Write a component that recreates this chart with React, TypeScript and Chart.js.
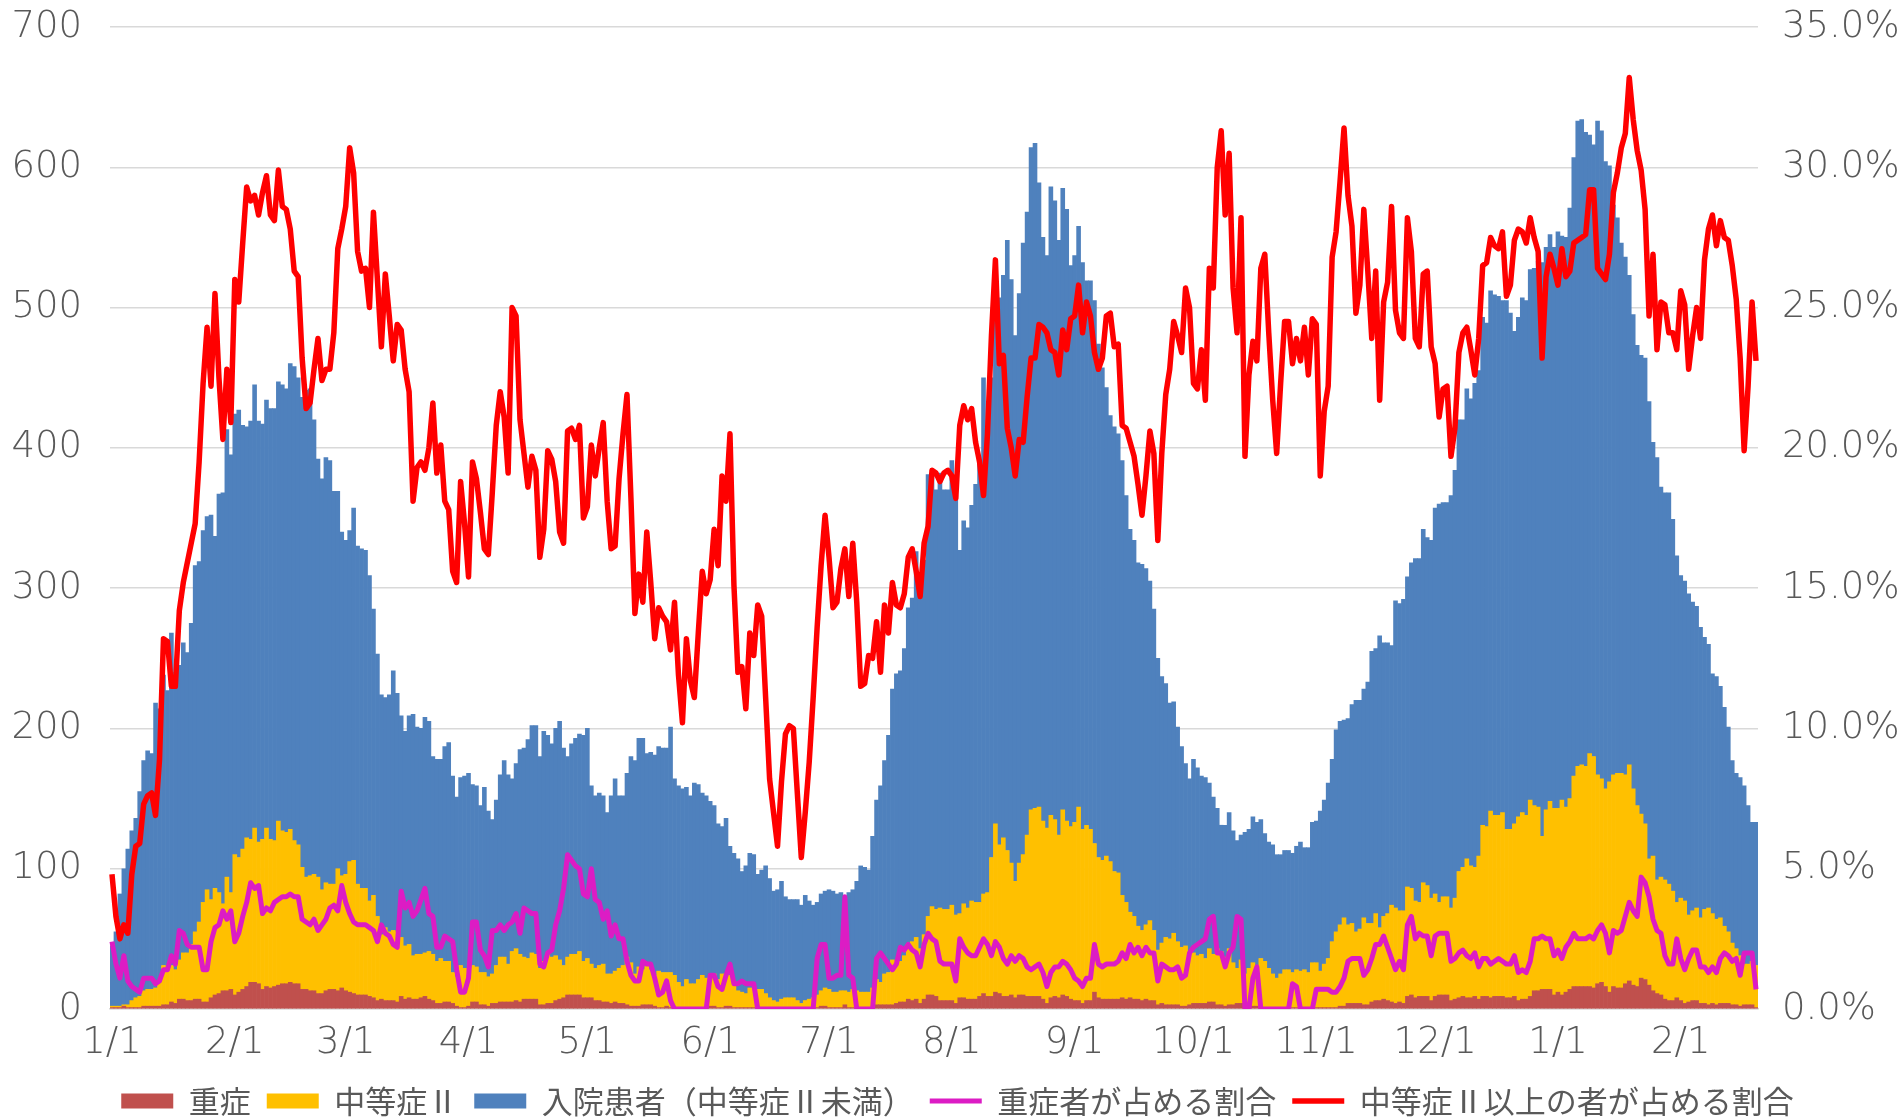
import { useEffect, useRef } from 'react';
import { Chart, registerables } from 'chart.js';

Chart.register(...registerables);

// Daily categories from 2021-01-01 (416 days, through 2022-02-20)
const START = { year: 2021, month: 0, day: 1 };
const DAY_COUNT = 416;
const DATES: string[] = Array.from({ length: DAY_COUNT }, (_, i) => {
  const d = new Date(Date.UTC(START.year, START.month, START.day + i));
  return `${d.getUTCMonth() + 1}/${d.getUTCDate()}`;
});

// 重症 (severe)
const SEVERE = [
  1, 1, 1, 2, 1, 1, 1, 1, 2, 2,
  2, 2, 2, 3, 3, 5, 4, 7, 7, 6,
  6, 7, 7, 5, 5, 8, 10, 11, 13, 13,
  14, 10, 12, 14, 16, 19, 19, 18, 14, 16,
  15, 16, 17, 18, 18, 19, 18, 18, 14, 14,
  13, 13, 11, 11, 13, 14, 14, 13, 15, 13,
  12, 11, 10, 10, 10, 9, 8, 6, 7, 6,
  6, 6, 5, 9, 7, 8, 7, 7, 8, 9,
  7, 6, 4, 4, 5, 5, 4, 2, 1, 1,
  2, 5, 5, 3, 3, 2, 4, 4, 5, 5,
  5, 5, 6, 5, 7, 7, 7, 7, 3, 3,
  4, 4, 6, 7, 8, 10, 10, 10, 10, 8,
  8, 8, 6, 6, 5, 5, 4, 5, 4, 4,
  3, 2, 2, 2, 3, 3, 3, 2, 1, 1,
  2, 1, 0, 0, 0, 0, 0, 0, 0, 0,
  0, 2, 2, 1, 1, 2, 2, 1, 1, 1,
  1, 1, 1, 0, 0, 0, 0, 0, 0, 0,
  0, 0, 0, 0, 0, 0, 0, 0, 1, 2,
  2, 1, 1, 1, 1, 3, 1, 1, 0, 0,
  0, 0, 0, 3, 3, 3, 3, 3, 4, 5,
  5, 7, 6, 7, 4, 7, 10, 10, 9, 6,
  6, 6, 6, 4, 8, 8, 7, 7, 7, 9,
  11, 9, 9, 12, 11, 9, 9, 10, 8, 10,
  10, 9, 9, 9, 9, 7, 4, 8, 9, 8,
  10, 9, 7, 6, 6, 4, 6, 6, 12, 8,
  7, 7, 7, 7, 7, 8, 7, 8, 7, 7,
  6, 7, 6, 6, 3, 4, 3, 3, 3, 3,
  2, 2, 3, 4, 4, 4, 4, 5, 5, 3,
  3, 2, 3, 3, 4, 4, 0, 0, 2, 2,
  0, 0, 0, 0, 0, 0, 0, 0, 1, 1,
  0, 0, 0, 0, 1, 1, 1, 1, 1, 1,
  2, 2, 4, 4, 4, 4, 3, 3, 5, 6,
  6, 7, 6, 5, 4, 5, 4, 9, 10, 8,
  9, 9, 9, 6, 9, 10, 10, 10, 6, 7,
  8, 9, 8, 8, 9, 7, 9, 9, 8, 9,
  9, 9, 8, 8, 9, 6, 7, 7, 9, 13,
  13, 14, 14, 14, 10, 12, 10, 12, 14, 16,
  16, 16, 16, 16, 15, 18, 19, 16, 12, 16,
  15, 15, 18, 20, 17, 16, 22, 21, 17, 13,
  11, 10, 7, 6, 6, 8, 6, 4, 5, 6,
  6, 4, 4, 3, 4, 3, 4, 4, 4, 3,
  3, 2, 3, 3, 3, 1,
];

// 中等症Ⅱ以上 (severe + moderate II)
const MODERATE_OR_ABOVE = [
  2, 2, 2, 3, 3, 6, 8, 9, 13, 14,
  14, 15, 19, 31, 30, 31, 28, 35, 40, 40,
  46, 55, 62, 76, 85, 78, 86, 83, 75, 94,
  83, 110, 108, 114, 122, 121, 129, 119, 121, 129,
  121, 120, 134, 127, 126, 128, 120, 117, 101, 94,
  95, 96, 94, 85, 90, 89, 89, 100, 95, 96,
  105, 106, 89, 86, 86, 77, 81, 66, 53, 58,
  55, 56, 55, 51, 45, 46, 38, 39, 39, 40,
  41, 39, 34, 36, 34, 34, 26, 23, 31, 29,
  26, 31, 30, 26, 26, 23, 25, 31, 37, 37,
  32, 41, 43, 39, 37, 36, 40, 39, 29, 34,
  39, 37, 38, 35, 31, 37, 39, 39, 41, 34,
  36, 32, 29, 31, 32, 25, 25, 27, 29, 31,
  37, 33, 25, 30, 28, 31, 28, 24, 27, 26,
  26, 26, 24, 19, 16, 21, 18, 18, 21, 24,
  22, 23, 25, 21, 25, 25, 24, 17, 13, 12,
  11, 15, 14, 14, 14, 11, 8, 6, 5, 7,
  8, 8, 8, 6, 4, 6, 7, 8, 10, 13,
  15, 14, 12, 12, 13, 13, 12, 14, 13, 12,
  12, 12, 15, 21, 19, 25, 26, 35, 34, 34,
  38, 46, 48, 51, 43, 53, 66, 73, 71, 72,
  71, 71, 74, 67, 68, 75, 72, 77, 76, 76,
  82, 83, 108, 132, 117, 122, 113, 104, 91, 104,
  110, 124, 142, 143, 144, 134, 129, 138, 135, 124,
  142, 134, 130, 133, 144, 128, 131, 128, 118, 108,
  106, 109, 105, 98, 97, 81, 76, 69, 66, 59,
  56, 60, 63, 56, 42, 47, 51, 50, 54, 48,
  44, 45, 41, 40, 38, 39, 36, 43, 39, 43,
  41, 37, 43, 33, 29, 35, 25, 29, 33, 31,
  36, 34, 29, 25, 22, 25, 28, 28, 26, 28,
  27, 28, 26, 33, 33, 27, 32, 36, 48, 55,
  60, 65, 60, 61, 55, 57, 65, 61, 61, 68,
  58, 66, 68, 74, 72, 70, 70, 87, 86, 77,
  76, 90, 88, 79, 82, 76, 80, 80, 72, 79,
  98, 101, 107, 102, 101, 109, 131, 130, 141, 138,
  138, 140, 128, 128, 132, 137, 140, 138, 149, 145,
  144, 123, 142, 148, 143, 143, 149, 144, 150, 166,
  173, 174, 173, 182, 180, 167, 164, 157, 162, 167,
  168, 168, 167, 174, 157, 145, 139, 132, 107, 109,
  92, 94, 92, 89, 84, 76, 79, 77, 67, 70,
  72, 65, 71, 72, 68, 64, 65, 59, 55, 47,
  43, 38, 32, 32, 34, 31,
];

// 入院患者 total
const INPATIENTS = [
  45, 55, 82, 100, 114, 127, 136, 155, 177, 184,
  182, 218, 214, 238, 227, 268, 240, 245, 261, 254,
  275, 316, 319, 341, 351, 352, 337, 367, 368, 413,
  395, 424, 427, 416, 415, 419, 445, 419, 417, 434,
  428, 428, 447, 445, 442, 460, 458, 450, 436, 441,
  442, 420, 392, 378, 393, 391, 369, 369, 340, 334,
  341, 357, 330, 328, 327, 309, 285, 253, 224, 222,
  224, 241, 225, 209, 198, 209, 210, 201, 200, 208,
  205, 180, 178, 178, 187, 190, 166, 151, 165, 166,
  168, 160, 159, 145, 158, 141, 135, 149, 167, 177,
  167, 164, 175, 185, 186, 192, 202, 202, 180, 198,
  195, 189, 200, 205, 186, 180, 189, 193, 196, 195,
  200, 159, 152, 154, 152, 140, 152, 164, 152, 152,
  168, 180, 177, 193, 193, 182, 183, 181, 187, 186,
  186, 201, 164, 159, 157, 158, 152, 161, 160, 154,
  152, 148, 145, 132, 130, 136, 116, 111, 107, 98,
  102, 111, 110, 96, 99, 102, 93, 84, 85, 91,
  80, 78, 78, 78, 74, 81, 77, 74, 76, 82,
  84, 85, 84, 82, 83, 77, 83, 85, 91, 102,
  101, 99, 123, 149, 159, 177, 195, 228, 239, 241,
  257, 286, 293, 326, 295, 320, 381, 381, 370, 382,
  370, 370, 391, 366, 327, 348, 343, 359, 374, 389,
  450, 407, 450, 493, 507, 523, 548, 520, 480, 510,
  546, 568, 614, 617, 589, 550, 537, 586, 576, 548,
  585, 570, 530, 537, 558, 532, 519, 519, 505, 474,
  457, 443, 423, 415, 410, 391, 366, 342, 334, 318,
  317, 314, 305, 285, 250, 237, 232, 218, 219, 201,
  187, 175, 164, 178, 172, 166, 165, 161, 151, 143,
  131, 131, 140, 127, 120, 124, 126, 128, 137, 133,
  135, 125, 119, 117, 110, 110, 113, 113, 111, 116,
  119, 115, 115, 133, 134, 141, 149, 161, 178, 199,
  205, 206, 207, 217, 220, 220, 228, 233, 255, 257,
  266, 261, 261, 259, 291, 289, 292, 308, 318, 321,
  321, 342, 336, 334, 357, 360, 361, 361, 366, 384,
  420, 420, 442, 435, 446, 455, 493, 489, 512, 509,
  508, 505, 505, 496, 483, 493, 507, 505, 527, 528,
  533, 532, 543, 552, 543, 554, 551, 550, 571, 607,
  633, 634, 625, 623, 616, 633, 626, 604, 601, 573,
  564, 546, 536, 523, 495, 473, 466, 464, 433, 404,
  393, 372, 368, 368, 349, 323, 309, 305, 296, 290,
  287, 272, 265, 260, 239, 237, 230, 215, 201, 177,
  168, 165, 159, 145, 133, 133,
];

// 重症者が占める割合 (%)
const SEVERE_SHARE = [
  2.4, 1.6, 1.1, 1.9, 1.0, 0.8, 0.7, 0.6, 1.1, 1.1,
  1.1, 0.9, 1.0, 1.4, 1.4, 1.9, 1.6, 2.8, 2.7, 2.3,
  2.2, 2.2, 2.2, 1.4, 1.4, 2.4, 2.9, 3.0, 3.5, 3.2,
  3.5, 2.4, 2.7, 3.3, 3.8, 4.5, 4.3, 4.4, 3.4, 3.6,
  3.5, 3.8, 3.9, 4.0, 4.0, 4.1, 4.0, 4.0, 3.2, 3.1,
  3.0, 3.2, 2.8, 3.0, 3.2, 3.6, 3.7, 3.5, 4.4, 3.8,
  3.4, 3.1, 3.0, 3.0, 3.0, 2.9, 2.8, 2.4, 3.0, 2.7,
  2.6, 2.3, 2.2, 4.2, 3.6, 3.8, 3.3, 3.5, 3.9, 4.3,
  3.4, 3.3, 2.2, 2.2, 2.6, 2.5, 2.4, 1.4, 0.6, 0.6,
  1.1, 3.1, 3.1, 2.1, 1.9, 1.5, 2.8, 2.8, 3.0, 2.8,
  3.0, 3.1, 3.4, 2.7, 3.6, 3.5, 3.4, 3.4, 1.6, 1.5,
  2.0, 2.1, 3.0, 3.5, 4.3, 5.5, 5.3, 5.1, 5.0, 4.1,
  4.0, 5.0, 3.9, 3.8, 3.2, 3.5, 2.6, 3.0, 2.5, 2.5,
  1.7, 1.2, 1.0, 1.0, 1.7, 1.6, 1.6, 1.1, 0.5, 0.6,
  1.0, 0.3, 0, 0, 0, 0, 0, 0, 0, 0,
  0, 1.2, 1.2, 0.8, 0.7, 1.2, 1.6, 0.9, 0.9, 1.0,
  0.9, 0.9, 0.9, 0, 0, 0, 0, 0, 0, 0,
  0, 0, 0, 0, 0, 0, 0, 0, 1.8, 2.3,
  2.3, 1.1, 1.1, 1.2, 1.2, 4.0, 1.2, 1.1, 0, 0,
  0, 0, 0, 1.8, 2.0, 1.8, 1.6, 1.4, 1.6, 2.2,
  2.1, 2.3, 2.1, 2.0, 1.5, 2.3, 2.7, 2.5, 2.4, 1.7,
  1.6, 1.6, 1.6, 1.0, 2.5, 2.2, 2.0, 1.9, 1.9, 2.2,
  2.5, 2.3, 1.9, 2.4, 2.2, 1.8, 1.6, 1.9, 1.7, 1.9,
  1.8, 1.5, 1.4, 1.5, 1.6, 1.3, 0.8, 1.3, 1.5, 1.5,
  1.7, 1.6, 1.4, 1.1, 1.0, 0.8, 1.1, 1.1, 2.3, 1.6,
  1.5, 1.6, 1.6, 1.6, 1.7, 2.0, 1.8, 2.3, 2.0, 2.2,
  1.9, 2.2, 2.0, 2.0, 1.0, 1.6, 1.5, 1.4, 1.4, 1.5,
  1.1, 1.2, 2.0, 2.2, 2.3, 2.4, 2.5, 3.2, 3.3, 2.0,
  2.0, 1.5, 2.0, 2.2, 3.3, 3.2, 0, 0, 1.1, 1.5,
  0, 0, 0, 0, 0, 0, 0, 0, 0.9, 0.8,
  0, 0, 0, 0, 0.7, 0.7, 0.7, 0.7, 0.6, 0.6,
  0.8, 1.1, 1.7, 1.8, 1.8, 1.8, 1.2, 1.4, 1.8, 2.3,
  2.3, 2.6, 2.2, 1.8, 1.4, 1.7, 1.4, 3.0, 3.3, 2.5,
  2.7, 2.6, 2.6, 1.9, 2.6, 2.7, 2.7, 2.7, 1.7, 1.8,
  2.0, 2.1, 1.9, 1.8, 2.0, 1.5, 1.8, 1.8, 1.6, 1.7,
  1.8, 1.7, 1.6, 1.6, 1.9, 1.3, 1.4, 1.3, 1.7, 2.5,
  2.5, 2.6, 2.5, 2.5, 1.9, 2.1, 1.8, 2.2, 2.4, 2.7,
  2.5, 2.5, 2.5, 2.6, 2.5, 2.8, 3.0, 2.7, 2.0, 2.8,
  2.7, 2.8, 3.3, 3.8, 3.5, 3.3, 4.7, 4.5, 4.0, 3.2,
  2.8, 2.7, 1.9, 1.6, 1.6, 2.5, 1.8, 1.4, 1.8, 2.1,
  2.1, 1.5, 1.5, 1.3, 1.5, 1.3, 1.8, 2.0, 1.9, 1.7,
  1.8, 1.2, 2.0, 2.0, 2.0, 0.7,
];

// 中等症Ⅱ以上の者が占める割合 (%)
const MODERATE_SHARE = [
  4.8, 3.3, 2.5, 3.0, 2.7, 4.8, 5.8, 5.9, 7.3, 7.6,
  7.7, 6.9, 8.9, 13.2, 13.1, 11.5, 11.5, 14.2, 15.2, 15.9,
  16.6, 17.3, 19.5, 22.3, 24.3, 22.2, 25.5, 22.5, 20.3, 22.8,
  20.9, 26.0, 25.2, 27.3, 29.3, 28.8, 29.0, 28.3, 29.1, 29.7,
  28.3, 28.1, 29.9, 28.6, 28.5, 27.8, 26.3, 26.1, 23.2, 21.4,
  21.6, 22.8, 23.9, 22.4, 22.8, 22.8, 24.1, 27.1, 27.8, 28.6,
  30.7, 29.8, 27.0, 26.3, 26.4, 25.0, 28.4, 26.0, 23.6, 26.2,
  24.7, 23.1, 24.4, 24.2, 22.8, 22.0, 18.1, 19.3, 19.5, 19.2,
  20.0, 21.6, 19.1, 20.1, 18.1, 17.8, 15.6, 15.2, 18.8, 17.3,
  15.4, 19.5, 18.9, 17.7, 16.4, 16.2, 18.4, 20.8, 22.0, 21.1,
  19.1, 25.0, 24.7, 21.0, 19.8, 18.6, 19.7, 19.2, 16.1, 17.1,
  19.9, 19.6, 18.8, 17.0, 16.6, 20.6, 20.7, 20.3, 20.8, 17.5,
  17.9, 20.1, 19.0, 20.0, 20.9, 18.1, 16.4, 16.5, 18.9, 20.5,
  21.9, 18.2, 14.1, 15.5, 14.5, 17.0, 15.2, 13.2, 14.3, 14.0,
  13.8, 12.8, 14.5, 11.9, 10.2, 13.2, 11.7, 11.1, 13.4, 15.6,
  14.8, 15.3, 17.1, 15.8, 19.0, 18.1, 20.5, 15.1, 12.0, 12.2,
  10.7, 13.4, 12.6, 14.4, 14.0, 11.1, 8.2, 7.0, 5.8, 8.1,
  9.8, 10.1, 10.0, 7.7, 5.4, 7.0, 8.8, 11.1, 13.6, 15.8,
  17.6, 16.1, 14.3, 14.5, 15.7, 16.4, 14.7, 16.6, 14.5, 11.5,
  11.6, 12.6, 12.5, 13.8, 12.0, 14.4, 13.4, 15.2, 14.4, 14.3,
  14.8, 16.1, 16.4, 15.6, 14.7, 16.6, 17.2, 19.2, 19.1, 18.8,
  19.1, 19.2, 19.0, 18.2, 20.8, 21.5, 21.0, 21.4, 20.2, 19.5,
  18.3, 20.5, 24.0, 26.7, 23.0, 23.3, 20.7, 20.0, 19.0, 20.3,
  20.2, 21.8, 23.2, 23.2, 24.4, 24.3, 24.1, 23.5, 23.4, 22.6,
  24.2, 23.5, 24.6, 24.7, 25.8, 24.1, 25.2, 24.7, 23.4, 22.8,
  23.2, 24.7, 24.8, 23.6, 23.7, 20.8, 20.7, 20.2, 19.7, 18.7,
  17.6, 19.0, 20.6, 19.8, 16.7, 19.8, 21.9, 22.8, 24.5, 24.0,
  23.4, 25.7, 25.0, 22.3, 22.1, 23.5, 21.7, 26.4, 25.7, 30.0,
  31.3, 28.3, 30.5, 25.7, 24.1, 28.2, 19.7, 22.6, 23.8, 23.1,
  26.4, 26.9, 24.1, 21.7, 19.8, 22.3, 24.5, 24.5, 23.0, 23.9,
  23.1, 24.3, 22.6, 24.6, 24.4, 19.0, 21.3, 22.2, 26.8, 27.7,
  29.5, 31.4, 29.0, 27.9, 24.8, 25.8, 28.5, 26.3, 23.9, 26.3,
  21.7, 25.2, 25.9, 28.6, 24.9, 24.1, 23.9, 28.2, 27.0, 23.9,
  23.6, 26.2, 26.3, 23.6, 23.0, 21.1, 22.1, 22.2, 19.7, 20.7,
  23.4, 24.1, 24.3, 23.5, 22.6, 23.9, 26.5, 26.6, 27.5, 27.2,
  27.1, 27.7, 25.4, 25.8, 27.4, 27.8, 27.7, 27.3, 28.2, 27.5,
  27.0, 23.2, 26.1, 26.9, 26.4, 25.8, 27.1, 26.1, 26.3, 27.3,
  27.4, 27.5, 27.6, 29.2, 29.2, 26.4, 26.2, 26.0, 26.9, 29.1,
  29.8, 30.7, 31.2, 33.2, 31.7, 30.6, 29.9, 28.5, 24.7, 26.9,
  23.5, 25.2, 25.1, 24.1, 24.1, 23.5, 25.6, 25.1, 22.8, 24.0,
  25.0, 23.9, 26.7, 27.8, 28.3, 27.2, 28.1, 27.5, 27.4, 26.5,
  25.3, 23.2, 19.9, 22.2, 25.2, 23.1,
];

const LEFT_TICKS = { min: 0, max: 700, step: 100 };
const RIGHT_TICKS = { min: 0, max: 35, step: 5 };

const NUM_FONT = "'DejaVu Sans', 'Noto Sans CJK JP', sans-serif";
const JP_FONT = "'Noto Sans CJK JP', 'DejaVu Sans', sans-serif";
const TEXT_COLOR = '#595959';
const GRID_COLOR = '#D9D9D9';

export default function App() {
  const canvasRef = useRef<HTMLCanvasElement | null>(null);

  useEffect(() => {
    const all = [SEVERE, MODERATE_OR_ABOVE, INPATIENTS, SEVERE_SHARE, MODERATE_SHARE];
    all.forEach((a, k) => {
      if (a.length !== DAY_COUNT) throw new Error(`array ${k} has length ${a.length}`);
    });
    const moderate = MODERATE_OR_ABOVE.map((v, i) => v - SEVERE[i]);
    const mild = INPATIENTS.map((v, i) => v - MODERATE_OR_ABOVE[i]);

    const legendFit = {
      id: 'legendFit',
      beforeLayout(chart: any) {
        const lg = chart.legend;
        if (lg && !lg.__patched) {
          const orig = lg.fit;
          lg.fit = function (this: any) {
            orig.call(this);
            this.height = 49.5;
          };
          lg.__patched = true;
        }
      },
      afterLayout(chart: any) {
        const lg = chart.legend;
        if (lg) {
          lg.left += 7;
          lg.right += 7;
        }
      },
    };

    const noVerticalPadding = (scale: any) => {
      scale.paddingTop = 0;
      scale.paddingBottom = 0;
    };

    const barCommon = {
      type: 'bar' as const,
      yAxisID: 'y',
      stack: 'patients',
      barPercentage: 1,
      categoryPercentage: 1,
      borderWidth: 0,
      order: 1,
      pointStyle: 'rect' as const,
    };

    const chart = new Chart(canvasRef.current as HTMLCanvasElement, {
      type: 'bar',
      data: {
        labels: DATES,
        datasets: [
          { ...barCommon, label: '重症', data: SEVERE, backgroundColor: '#C0504D' },
          { ...barCommon, label: '中等症Ⅱ', data: moderate, backgroundColor: '#FFC000' },
          { ...barCommon, label: '入院患者（中等症Ⅱ未満）', data: mild, backgroundColor: '#4F81BD' },
          {
            type: 'line',
            label: '重症者が占める割合',
            data: SEVERE_SHARE,
            yAxisID: 'y2',
            borderColor: '#DC1CC4',
            backgroundColor: '#DC1CC4',
            borderWidth: 5,
            pointRadius: 0,
            tension: 0,
            borderJoinStyle: 'round',
            order: 0,
            pointStyle: 'line',
          },
          {
            type: 'line',
            label: '中等症Ⅱ以上の者が占める割合',
            data: MODERATE_SHARE,
            yAxisID: 'y2',
            borderColor: '#FF0000',
            backgroundColor: '#FF0000',
            borderWidth: 5.5,
            pointRadius: 0,
            tension: 0,
            borderJoinStyle: 'round',
            order: 0,
            pointStyle: 'line',
          },
        ] as any,
      },
      options: {
        responsive: false,
        animation: false,
        devicePixelRatio: 1,
        layout: { padding: { top: 27, left: 0, right: 0, bottom: 0 } },
        scales: {
          x: {
            stacked: true,
            offset: true,
            grid: { display: false, drawTicks: false },
            border: { display: true, color: GRID_COLOR, width: 1.5 },
            ticks: {
              autoSkip: false,
              maxRotation: 0,
              minRotation: 0,
              padding: 12,
              color: TEXT_COLOR,
              font: { family: NUM_FONT, size: 37, weight: '300' as any },
              callback: function (this: any, value: any) {
                const l = this.getLabelForValue(value) as string;
                return l.endsWith('/1') ? l : '';
              },
            },
            afterFit(scale: any) {
              scale.height = 60.5;
            },
          },
          y: {
            stacked: true,
            position: 'left',
            min: LEFT_TICKS.min,
            max: LEFT_TICKS.max,
            grid: { color: GRID_COLOR, lineWidth: 1.5, drawTicks: false },
            border: { display: false },
            ticks: {
              stepSize: LEFT_TICKS.step,
              padding: 28,
              color: TEXT_COLOR,
              font: { family: NUM_FONT, size: 37, weight: '300' as any },
            },
            afterFit(scale: any) {
              scale.width = 110;
              noVerticalPadding(scale);
            },
          },
          y2: {
            position: 'right',
            min: RIGHT_TICKS.min,
            max: RIGHT_TICKS.max,
            grid: { display: false, drawTicks: false },
            border: { display: false },
            ticks: {
              stepSize: RIGHT_TICKS.step,
              padding: 24,
              color: TEXT_COLOR,
              font: { family: NUM_FONT, size: 37, weight: '300' as any },
              callback: (v: any) => `${Number(v).toFixed(1)}%`,
            },
            afterFit(scale: any) {
              scale.width = 143;
              noVerticalPadding(scale);
            },
          },
        },
        plugins: {
          legend: {
            position: 'bottom',
            labels: {
              usePointStyle: true,
              pointStyleWidth: 52,
              boxHeight: 15,
              padding: 16,
              color: TEXT_COLOR,
              font: { family: JP_FONT, size: 31 },
              sort: (a: any, b: any) => a.datasetIndex - b.datasetIndex,
            },
          },
          tooltip: { enabled: false },
        },
      } as any,
      plugins: [legendFit],
    });

    return () => chart.destroy();
  }, []);

  return (
    <div style={{ position: 'absolute', left: 0, top: 0, width: 1901, height: 1119, background: '#ffffff' }}>
      <canvas ref={canvasRef} width={1901} height={1119} style={{ display: 'block', width: 1901, height: 1119 }} />
    </div>
  );
}
